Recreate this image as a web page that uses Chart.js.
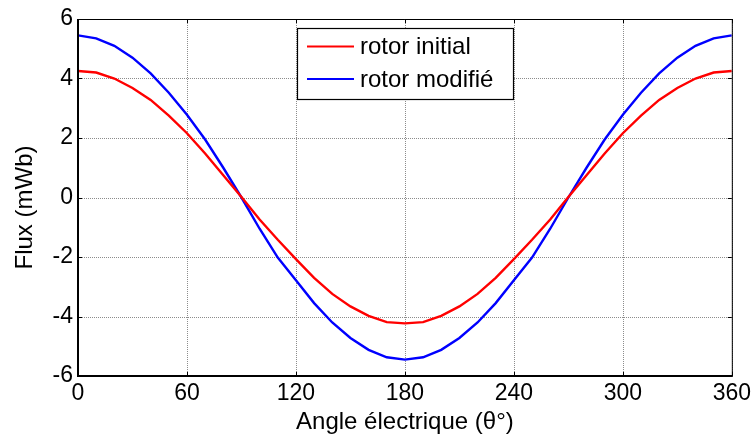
<!DOCTYPE html>
<html>
<head>
<meta charset="utf-8">
<script src="https://cdn.jsdelivr.net/npm/chart.js@4/dist/chart.umd.min.js"></script>
<style>
  body { margin: 0; background: #fff; }
  #wrap { width: 755px; height: 439px; }
</style>
</head>
<body>
<div id="wrap"><canvas id="fluxChart" width="755" height="439"></canvas></div>
<script>
// angle électrique (deg), sampled every 10 deg
const angles = [0, 10, 20, 30, 40, 50, 60, 70, 80, 90, 100, 110, 120, 130, 140, 150, 160, 170, 180,
                190, 200, 210, 220, 230, 240, 250, 260, 270, 280, 290, 300, 310, 320, 330, 340, 350, 360];

// flux (mWb)
const fluxInitial = [4.25, 4.20, 4.00, 3.68, 3.28, 2.75, 2.16, 1.48, 0.75, 0.02, -0.74, -1.42, -2.07, -2.70, -3.24, -3.66, -3.98, -4.19, -4.23,
                     -4.19, -3.98, -3.66, -3.24, -2.70, -2.07, -1.42, -0.74, 0.02, 0.75, 1.48, 2.16, 2.75, 3.28, 3.68, 4.00, 4.20, 4.25];
const fluxModifie = [5.45, 5.35, 5.10, 4.70, 4.17, 3.52, 2.78, 1.95, 1.00, 0.00, -1.05, -2.02, -2.78, -3.55, -4.20, -4.72, -5.12, -5.37, -5.45,
                     -5.37, -5.12, -4.72, -4.20, -3.55, -2.78, -2.02, -1.05, 0.00, 1.00, 1.95, 2.78, 3.52, 4.17, 4.70, 5.10, 5.35, 5.45];

const xTicks = [0, 60, 120, 180, 240, 300, 360];
const yTicks = [-6, -4, -2, 0, 2, 4, 6];
const seriesLabels = ["rotor initial", "rotor modifié"];
const seriesColors = ["#ff0000", "#0000ff"];
const yTitle = "Flux (mWb)";

const FONT = "'Liberation Sans', Arial, Helvetica, sans-serif";

function toPoints(ys) {
    return angles.map((a, i) => ({ x: a, y: ys[i] }));
}

// matlab style frame: dotted grid, box, inward ticks, legend box, y label
const matlabFrame = {
    id: "matlabFrame",
    beforeDatasetsDraw(chart) {
        const { ctx, chartArea: a, scales: { x, y } } = chart;
        ctx.save();
        ctx.strokeStyle = "#8c8c8c";
        ctx.lineWidth = 1;
        ctx.setLineDash([1, 1]);
        xTicks.forEach(v => {
            const px = Math.round(x.getPixelForValue(v)) + 0.5;
            ctx.beginPath(); ctx.moveTo(px, a.top); ctx.lineTo(px, a.bottom); ctx.stroke();
        });
        yTicks.forEach(v => {
            const py = Math.round(y.getPixelForValue(v)) + 0.5;
            ctx.beginPath(); ctx.moveTo(a.left, py); ctx.lineTo(a.right, py); ctx.stroke();
        });
        ctx.restore();
    },
    afterDatasetsDraw(chart) {
        const { ctx, chartArea: a, scales: { x, y } } = chart;
        ctx.save();
        ctx.setLineDash([]);
        ctx.strokeStyle = "#000";
        // thin top/right
        ctx.lineWidth = 1;
        ctx.beginPath();
        ctx.moveTo(a.left, a.top + 0.5); ctx.lineTo(a.right, a.top + 0.5);
        ctx.moveTo(a.right + 0.5, a.top); ctx.lineTo(a.right + 0.5, a.bottom);
        ctx.stroke();
        // ticks
        const tl = 4;
        ctx.beginPath();
        xTicks.forEach(v => {
            const px = Math.round(x.getPixelForValue(v)) + 0.5;
            ctx.moveTo(px, a.bottom); ctx.lineTo(px, a.bottom - tl);
            ctx.moveTo(px, a.top); ctx.lineTo(px, a.top + tl);
        });
        yTicks.forEach(v => {
            const py = Math.round(y.getPixelForValue(v)) + 0.5;
            ctx.moveTo(a.left, py); ctx.lineTo(a.left + tl, py);
            ctx.moveTo(a.right, py); ctx.lineTo(a.right - tl, py);
        });
        ctx.stroke();
        // thick left/bottom
        ctx.lineWidth = 2;
        ctx.beginPath();
        ctx.moveTo(a.left, a.top); ctx.lineTo(a.left, a.bottom); ctx.lineTo(a.right + 1, a.bottom);
        ctx.stroke();

        // y label, sits a bit below the axis middle like matlab
        ctx.font = "24px " + FONT;
        ctx.fillStyle = "#000";
        ctx.textAlign = "center";
        ctx.textBaseline = "middle";
        ctx.save();
        ctx.translate(25, (a.top + a.bottom) / 2 + 10);
        ctx.rotate(-Math.PI / 2);
        ctx.fillText(yTitle, 0, 0);
        ctx.restore();

        // legend
        const lx = a.left + 219, ly = a.top + 9, lw = 216, lh = 71;
        ctx.fillStyle = "#fff";
        ctx.fillRect(lx, ly, lw, lh);
        ctx.lineWidth = 1.2;
        ctx.strokeRect(lx + 0.5, ly + 0.5, lw, lh);
        ctx.textAlign = "left";
        chart.data.datasets.forEach((ds, i) => {
            const cy = ly + 18.5 + i * 32.5;
            ctx.strokeStyle = ds.borderColor;
            ctx.lineWidth = 2;
            ctx.beginPath(); ctx.moveTo(lx + 10, cy); ctx.lineTo(lx + 57, cy); ctx.stroke();
            ctx.fillStyle = "#000";
            ctx.fillText(ds.label, lx + 63, cy + 1);
        });
        ctx.restore();
    }
};

new Chart(document.getElementById("fluxChart"), {
    type: "line",
    data: {
        datasets: [
            { label: seriesLabels[0], data: toPoints(fluxInitial), borderColor: seriesColors[0], borderWidth: 2.4, pointRadius: 0, tension: 0, fill: false },
            { label: seriesLabels[1], data: toPoints(fluxModifie), borderColor: seriesColors[1], borderWidth: 2.4, pointRadius: 0, tension: 0, fill: false }
        ]
    },
    options: {
        responsive: false,
        animation: false,
        events: [],
        layout: { padding: { top: 19, right: 23, left: 0, bottom: 0 } },
        plugins: { legend: { display: false }, tooltip: { enabled: false } },
        scales: {
            x: {
                type: "linear",
                min: 0, max: 360,
                afterBuildTicks(scale) { scale.ticks = xTicks.map(v => ({ value: v })); },
                afterFit(scale) { scale.height = 63; },
                grid: { display: false, drawTicks: false },
                border: { display: false },
                ticks: { color: "#000", padding: 4, maxRotation: 0, font: { family: FONT, size: 23 } },
                title: { display: true, text: "Angle électrique (θ°)", color: "#000", padding: { top: 0, bottom: 2 }, font: { family: FONT, size: 24 } }
            },
            y: {
                min: -6, max: 6,
                afterBuildTicks(scale) { scale.ticks = yTicks.map(v => ({ value: v })); },
                afterFit(scale) { scale.width = 78; },
                grid: { display: false, drawTicks: false },
                border: { display: false },
                ticks: { color: "#000", padding: 5, font: { family: FONT, size: 23 } },
                title: { display: false }
            }
        }
    },
    plugins: [matlabFrame]
});
</script>
</body>
</html>
